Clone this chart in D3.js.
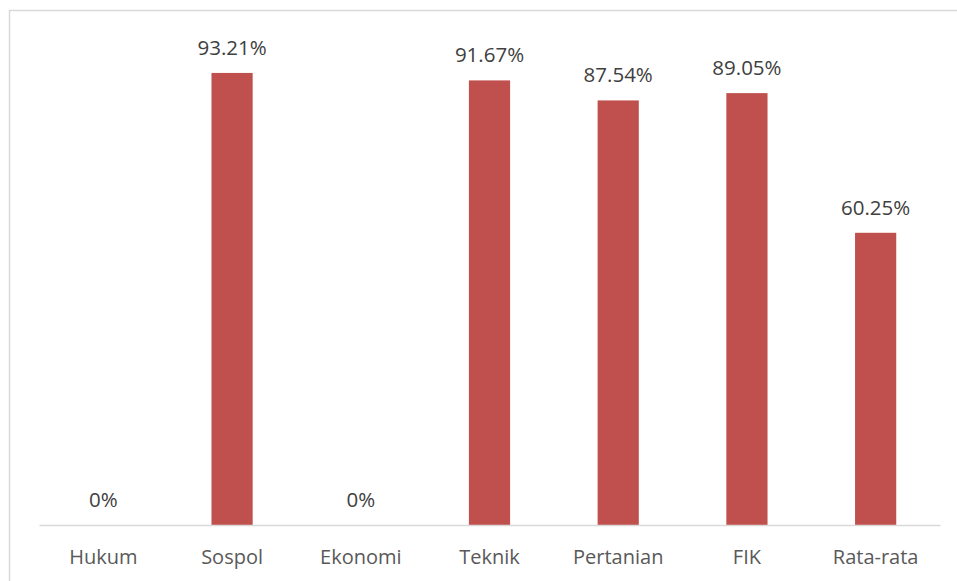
<!DOCTYPE html>
<html>
<head>
<meta charset="utf-8">
<script src="https://cdn.jsdelivr.net/npm/d3@7"></script>
<style>
  body { margin: 0; background: #fff; }
  svg { display: block; font-family: "Open Sans", sans-serif; }
</style>
</head>
<body>
<div class="root"></div>
<script>
const categories = ["Hukum", "Sospol", "Ekonomi", "Teknik", "Pertanian", "FIK", "Rata-rata"];
const values = [0, 93.21, 0, 91.67, 87.54, 89.05, 60.25];
const labels = ["0%", "93.21%", "0%", "91.67%", "87.54%", "89.05%", "60.25%"];

const width = 957;
const height = 581;

const svg = d3
  .select("div.root")
  .append("svg")
  .attr("width", width)
  .attr("height", height);

// chart area border (runs off right / bottom edge like the crop)
svg
  .append("rect")
  .attr("x", 9.5)
  .attr("y", 10.5)
  .attr("width", width + 20)
  .attr("height", height + 20)
  .attr("fill", "none")
  .attr("stroke", "#d9d9d9")
  .attr("stroke-width", 1.5);

const dataset = categories.map((c, i) => ({ cat: c, val: values[i], label: labels[i] }));

const xscale = d3
  .scaleBand()
  .domain(categories)
  .range([39, 940])
  .paddingInner(0.68)
  .paddingOuter(0.34);

const yscale = d3.scaleLinear().domain([0, 100]).range([525, 40]);

svg
  .selectAll("rect.bar")
  .data(dataset)
  .enter()
  .append("rect")
  .attr("class", "bar")
  .attr("x", d => xscale(d.cat))
  .attr("width", xscale.bandwidth())
  .attr("y", d => yscale(d.val))
  .attr("height", d => yscale(0) - yscale(d.val))
  .attr("fill", "#c0504d");

// baseline axis
const xaxis = d3.axisBottom(xscale).tickSize(0).tickPadding(25);
const gx = svg
  .append("g")
  .attr("transform", `translate(0,${yscale(0)})`)
  .call(xaxis);
gx.select(".domain").attr("stroke", "#d9d9d9").attr("stroke-width", 1.5);
gx.selectAll("text")
  .attr("fill", "#595959")
  .style("font-size", "20px")
  .style("font-family", "'Open Sans', sans-serif");

svg
  .selectAll("text.val")
  .data(dataset)
  .enter()
  .append("text")
  .attr("class", "val")
  .attr("x", d => xscale(d.cat) + xscale.bandwidth() / 2)
  .attr("y", d => yscale(d.val) - 18)
  .attr("text-anchor", "middle")
  .attr("fill", "#404040")
  .style("font-size", "20.5px")
  .text(d => d.label);
</script>
</body>
</html>
